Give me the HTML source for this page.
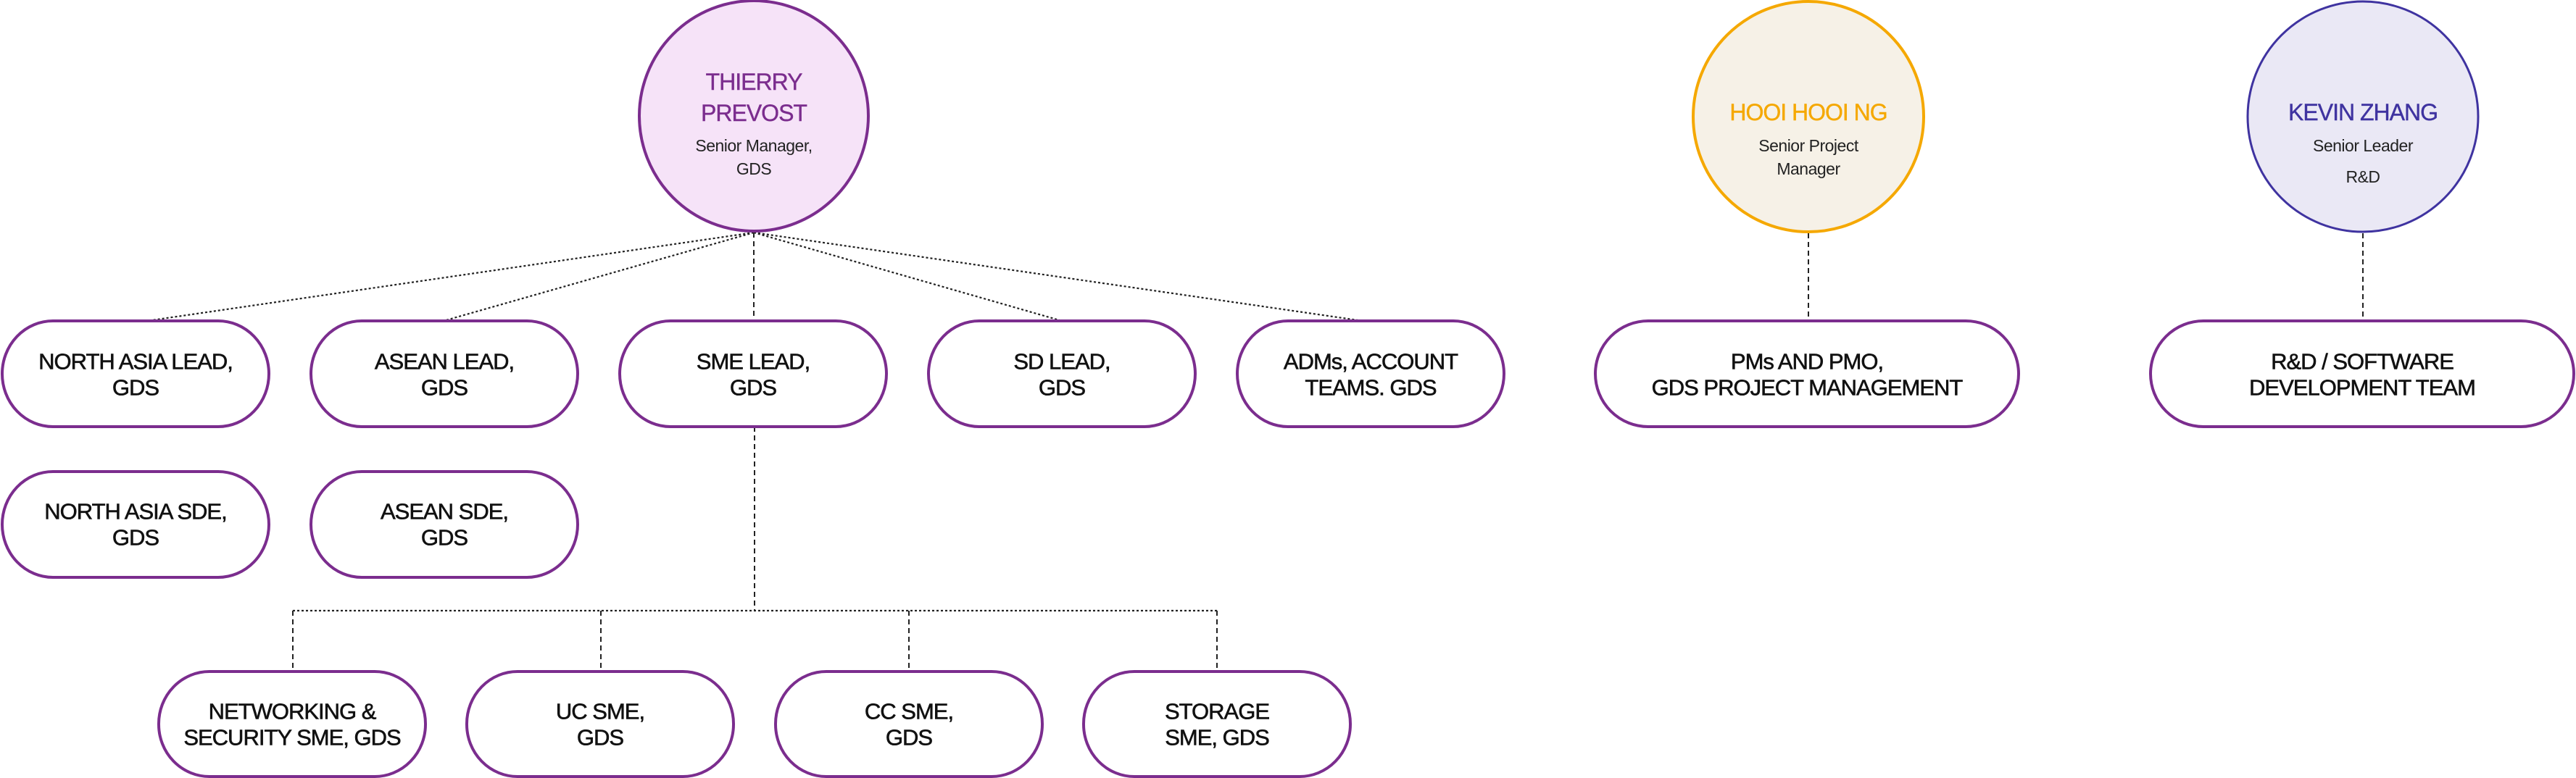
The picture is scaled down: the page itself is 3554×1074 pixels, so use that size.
<!DOCTYPE html>
<html><head><meta charset="utf-8"><style>
html,body{margin:0;padding:0;background:#fff;}
svg{display:block;}
text{font-family:"Liberation Sans",sans-serif;}
.b{font-size:31px;fill:#111;stroke:#111;stroke-width:0.6;letter-spacing:-1px;text-anchor:middle;dominant-baseline:central;}
.t{font-size:32px;letter-spacing:-1px;stroke-width:0.4;text-anchor:middle;dominant-baseline:central;}
.s{font-size:23px;fill:#222;letter-spacing:-0.5px;text-anchor:middle;dominant-baseline:central;}
.box{fill:#fff;stroke:#7B2D8E;stroke-width:4;}
.dot{stroke:#222;stroke-width:2.2;stroke-dasharray:3 3;fill:none;}
.dash{stroke:#222;stroke-width:2;stroke-dasharray:7 5;fill:none;}
</style></head><body>
<svg width="3554" height="1074" viewBox="0 0 3554 1074" xmlns="http://www.w3.org/2000/svg">
<line class="dot" x1="1040" y1="321" x2="203" y2="443"/>
<line class="dot" x1="1040" y1="321" x2="612" y2="443"/>
<line class="dash" x1="1040" y1="321" x2="1040" y2="443"/>
<line class="dot" x1="1040" y1="321" x2="1465" y2="443"/>
<line class="dot" x1="1040" y1="321" x2="1880" y2="443"/>
<line class="dash" x1="1041" y1="589" x2="1041" y2="843"/>
<line class="dot" x1="404" y1="843" x2="1679" y2="843"/>
<line class="dash" x1="404" y1="843" x2="404" y2="927"/>
<line class="dash" x1="829" y1="843" x2="829" y2="927"/>
<line class="dash" x1="1254" y1="843" x2="1254" y2="927"/>
<line class="dash" x1="1679" y1="843" x2="1679" y2="927"/>
<line class="dash" x1="2495" y1="322" x2="2495" y2="443"/>
<line class="dash" x1="3260" y1="322" x2="3260" y2="443"/>

<ellipse cx="1040" cy="160" rx="158" ry="159" fill="#F6E3F8" stroke="#7B2D8E" stroke-width="4"/>
<text class="t" x="1040" y="113" fill="#7B2D8E" stroke="#7B2D8E">THIERRY</text>
<text class="t" x="1040" y="156" fill="#7B2D8E" stroke="#7B2D8E">PREVOST</text>
<text class="s" x="1040" y="201">Senior Manager,</text>
<text class="s" x="1040" y="233">GDS</text>

<ellipse cx="2495" cy="161" rx="159" ry="159" fill="#F6F1E7" stroke="#F5A800" stroke-width="4"/>
<text class="t" x="2495" y="155" fill="#F5A800" stroke="#F5A800">HOOI HOOI NG</text>
<text class="s" x="2495" y="201">Senior Project</text>
<text class="s" x="2495" y="233">Manager</text>

<ellipse cx="3260" cy="161" rx="159" ry="159" fill="#EAE8F5" stroke="#3F33A0" stroke-width="3"/>
<text class="t" x="3260" y="155" fill="#3F33A0" stroke="#3F33A0">KEVIN ZHANG</text>
<text class="s" x="3260" y="201">Senior Leader</text>
<text class="s" x="3260" y="244">R&amp;D</text>

<rect class="box" x="3" y="443" width="368" height="146" rx="70" ry="73"/>
<text class="b" x="187" y="499">NORTH ASIA LEAD,</text><text class="b" x="187" y="535">GDS</text>
<rect class="box" x="429" y="443" width="368" height="146" rx="70" ry="73"/>
<text class="b" x="613" y="499">ASEAN LEAD,</text><text class="b" x="613" y="535">GDS</text>
<rect class="box" x="855" y="443" width="368" height="146" rx="70" ry="73"/>
<text class="b" x="1039" y="499">SME LEAD,</text><text class="b" x="1039" y="535">GDS</text>
<rect class="box" x="1281" y="443" width="368" height="146" rx="70" ry="73"/>
<text class="b" x="1465" y="499">SD LEAD,</text><text class="b" x="1465" y="535">GDS</text>
<rect class="box" x="1707" y="443" width="368" height="146" rx="70" ry="73"/>
<text class="b" x="1891" y="499">ADMs, ACCOUNT</text><text class="b" x="1891" y="535">TEAMS. GDS</text>

<rect class="box" x="2201" y="443" width="584" height="146" rx="73" ry="73"/>
<text class="b" x="2493" y="499">PMs AND PMO,</text><text class="b" x="2493" y="535">GDS PROJECT MANAGEMENT</text>
<rect class="box" x="2967" y="443" width="584" height="146" rx="73" ry="73"/>
<text class="b" x="3259" y="499">R&amp;D / SOFTWARE</text><text class="b" x="3259" y="535">DEVELOPMENT TEAM</text>

<rect class="box" x="3" y="651" width="368" height="146" rx="70" ry="73"/>
<text class="b" x="187" y="706">NORTH ASIA SDE,</text><text class="b" x="187" y="742">GDS</text>
<rect class="box" x="429" y="651" width="368" height="146" rx="70" ry="73"/>
<text class="b" x="613" y="706">ASEAN SDE,</text><text class="b" x="613" y="742">GDS</text>

<rect class="box" x="219" y="927" width="368" height="145" rx="70" ry="72"/>
<text class="b" x="403" y="982">NETWORKING &amp;</text><text class="b" x="403" y="1018">SECURITY SME, GDS</text>
<rect class="box" x="644" y="927" width="368" height="145" rx="70" ry="72"/>
<text class="b" x="828" y="982">UC SME,</text><text class="b" x="828" y="1018">GDS</text>
<rect class="box" x="1070" y="927" width="368" height="145" rx="70" ry="72"/>
<text class="b" x="1254" y="982">CC SME,</text><text class="b" x="1254" y="1018">GDS</text>
<rect class="box" x="1495" y="927" width="368" height="145" rx="70" ry="72"/>
<text class="b" x="1679" y="982">STORAGE</text><text class="b" x="1679" y="1018">SME, GDS</text>
</svg>
</body></html>
